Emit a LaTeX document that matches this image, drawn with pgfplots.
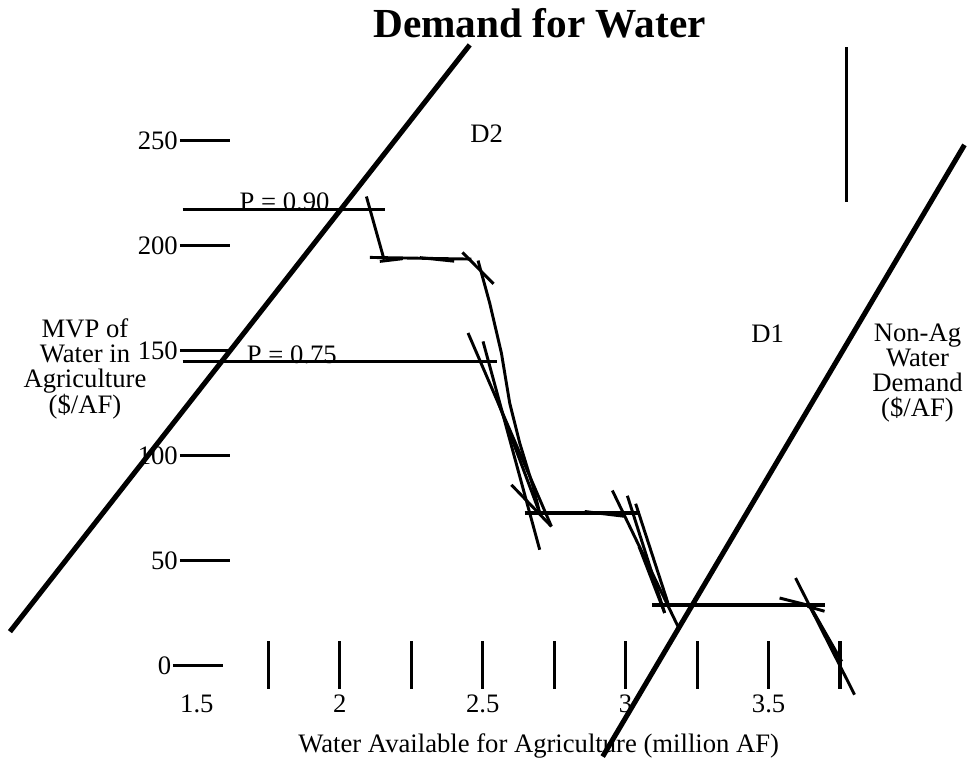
\documentclass[border=0pt]{standalone}
\usepackage{pgfplots}
\pgfplotsset{compat=1.18}
\usepackage{fontspec}
\setmainfont{Liberation Serif}
\tikzset{lbl/.style={font=\fontsize{20}{18.75}\selectfont, inner sep=0pt, text=black}}
\begin{document}
\begin{tikzpicture}
\begin{axis}[scale only axis, width=725.25pt, height=570.75pt,
  xmin=0.81119, xmax=4.19231, ymin=-45.216, ymax=316.99,
  hide axis, clip=false, no markers,
  every axis plot/.append style={black, line cap=butt}]
% frame for bounding box
\addplot[draw=none, forget plot] coordinates {(0.81119,-45.216) (4.19231,316.99)};
% y tick marks
\addplot[line width=2.4pt] coordinates {(1.4406,250) (1.6154,250)};
\addplot[line width=2.4pt] coordinates {(1.4406,200) (1.6154,200)};
\addplot[line width=2.4pt] coordinates {(1.4406,150) (1.6154,150)};
\addplot[line width=2.4pt] coordinates {(1.4406,100) (1.6154,100)};
\addplot[line width=2.4pt] coordinates {(1.4406,50) (1.6154,50)};
\addplot[line width=2.4pt] coordinates {(1.4161,0) (1.5909,0)};
% x tick marks
\addplot[line width=2.4pt] coordinates {(1.75,11.57) (1.75,-11.09)};
\addplot[line width=2.4pt] coordinates {(2.00,11.57) (2.00,-11.09)};
\addplot[line width=2.4pt] coordinates {(2.25,11.57) (2.25,-11.09)};
\addplot[line width=2.4pt] coordinates {(2.50,11.57) (2.50,-11.09)};
\addplot[line width=2.4pt] coordinates {(2.75,11.57) (2.75,-11.09)};
\addplot[line width=2.4pt] coordinates {(3.00,11.57) (3.00,-11.09)};
\addplot[line width=2.4pt] coordinates {(3.25,11.57) (3.25,-11.09)};
\addplot[line width=2.4pt] coordinates {(3.50,11.57) (3.50,-11.09)};
\addplot[line width=2.4pt] coordinates {(3.75,11.57) (3.75,-11.09)};
% tick labels
\node[lbl, anchor=east] at (axis cs:1.434,250) {250};
\node[lbl, anchor=east] at (axis cs:1.434,200) {200};
\node[lbl, anchor=east] at (axis cs:1.434,150) {150};
\node[lbl, anchor=east] at (axis cs:1.434,100) {100};
\node[lbl, anchor=east] at (axis cs:1.434,50) {50};
\node[lbl, anchor=east] at (axis cs:1.411,0) {0};
\node[lbl, anchor=base] at (axis cs:1.5,-22.51) {1.5};
\node[lbl, anchor=base] at (axis cs:2.0,-22.51) {2};
\node[lbl, anchor=base] at (axis cs:2.5,-22.51) {2.5};
\node[lbl, anchor=base] at (axis cs:3.0,-22.51) {3};
\node[lbl, anchor=base] at (axis cs:3.5,-22.51) {3.5};
% price text
\node[lbl, anchor=base] at (axis cs:1.8066,216.6) {P = 0.90};
\node[lbl, anchor=base] at (axis cs:1.8322,144.0) {P = 0.75};
% price lines
\addplot[line width=2.2pt] coordinates {(1.45,217.4) (2.157,217.4)};
\addplot[line width=2.2pt] coordinates {(1.45,144.8) (2.549,144.8)};
% step demand sketch
\addplot[line width=2.2pt] coordinates {(2.093,223.4) (2.155,193.3)};
\addplot[line width=2.2pt] coordinates {(2.105,194.4) (2.4605,193.6)};
\addplot[line width=2.2pt] coordinates {(2.14,192.5) (2.22,193.8)};
\addplot[line width=2.2pt] coordinates {(2.28,194.3) (2.40,192.6)};
\addplot[line width=2.2pt] coordinates {(2.429,196.8) (2.538,181.8)};
\addplot[line width=2.2pt] coordinates {(2.4836,192.9) (2.5245,172.6) (2.5654,148.8) (2.5944,125.0) (2.6294,106.0) (2.6759,85.3) (2.6993,72.7)};
\addplot[line width=2.2pt] coordinates {(2.4486,158.4) (2.7402,66.3)};
\addplot[line width=2.2pt] coordinates {(2.501,154.4) (2.6993,55.2)};
\addplot[line width=2.2pt] coordinates {(2.542,129.8) (2.6993,72.7)};
\addplot[line width=2.2pt] coordinates {(2.6003,86.1) (2.7402,66.3)};
\addplot[line width=2.4pt] coordinates {(2.6469,72.7) (3.049,72.7)};
\addplot[line width=2.2pt] coordinates {(2.8566,73.4) (2.9965,71.1)};
\addplot[line width=2.2pt] coordinates {(2.9535,83.4) (3.1829,18.7)};
\addplot[line width=2.2pt] coordinates {(3.006,80.9) (3.1364,25.1)};
\addplot[line width=2.2pt] coordinates {(3.035,77.1) (3.1479,29.8)};
\addplot[line width=2.2pt] coordinates {(3.0465,56.8) (3.1364,25.1)};
\addplot[line width=3.2pt] coordinates {(3.0934,29.0) (3.6958,29.0)};
\addplot[line width=2.2pt] coordinates {(3.5385,32.2) (3.6434,28.6)};
\addplot[line width=2.2pt] coordinates {(3.6364,28.2) (3.6958,25.9)};
\addplot[line width=2.2pt] coordinates {(3.5944,41.7) (3.8007,-13.8)};
\addplot[line width=2.6pt] coordinates {(3.6434,28.6) (3.7552,1.9)};
% vertical line
\addplot[line width=1.9pt] coordinates {(3.7727,294.6) (3.7727,220.8)};
% demand lines
\addplot[line width=3.8pt] coordinates {(0.846,16.18) (2.4545,295.6)};
\addplot[line width=3.8pt] coordinates {(2.9196,-43.31) (4.1853,247.98)};
% labels
\node[font=\fontsize{31}{36}\selectfont\bfseries, inner sep=0pt, anchor=center] at (axis cs:2.699,306.0) {Demand for Water};
\node[lbl, anchor=base] at (axis cs:2.514,248.93) {D2};
\node[lbl, anchor=base] at (axis cs:3.4965,153.7) {D1};
\node[lbl, anchor=center, align=center] at (axis cs:1.1084,141.2) {MVP of\\Water in\\Agriculture\\(\$/AF)};
\node[lbl, anchor=center, align=center] at (axis cs:4.021,139.2) {Non-Ag\\Water\\Demand\\(\$/AF)};
\node[lbl, anchor=base] at (axis cs:2.6958,-41.41) {Water Available for Agriculture (million AF)};
\end{axis}
\end{tikzpicture}
\end{document}
